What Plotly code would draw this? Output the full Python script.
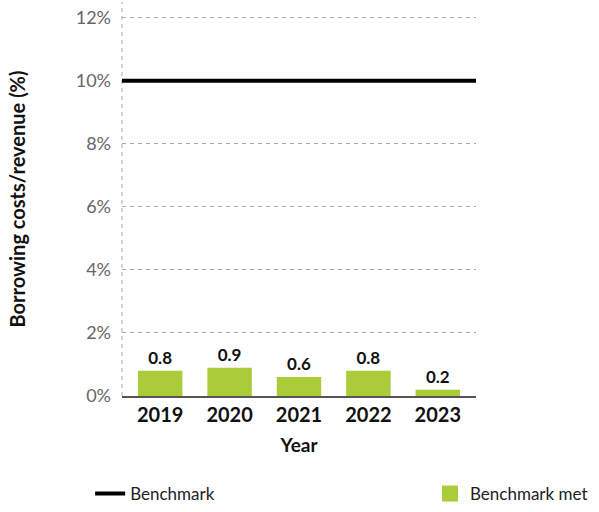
import plotly.graph_objects as go

# Borrowing costs as a share of revenue, by year
years = ["2019", "2020", "2021", "2022", "2023"]
borrowing_pct = [0.8, 0.9, 0.6, 0.8, 0.2]
benchmark_pct = 10

y_ticks = [0, 2, 4, 6, 8, 10, 12]
y_tick_labels = ["0%", "2%", "4%", "6%", "8%", "10%", "12%"]

FONT = "Lato"
GREEN = "#AACC38"

positions = list(range(len(years)))
x_range = [-0.55, len(years) - 0.45]

fig = go.Figure()

fig.add_trace(go.Bar(
    x=positions, y=borrowing_pct,
    marker=dict(color=GREEN, line=dict(width=0)),
    width=0.64,
    text=[f"{v:.1f}" for v in borrowing_pct],
    textposition="outside",
    textfont=dict(family=FONT, size=17, color="#111111", weight="bold"),
    cliponaxis=False,
    showlegend=False,
    hoverinfo="skip",
))

# Benchmark line across the full plot width
fig.add_trace(go.Scatter(
    x=x_range, y=[benchmark_pct, benchmark_pct],
    mode="lines", line=dict(color="#000000", width=4),
    name="Benchmark", cliponaxis=False, legend="legend",
))

# Legend entry for the bars
fig.add_trace(go.Scatter(
    x=[None], y=[None], mode="markers",
    marker=dict(symbol="square", size=20, color=GREEN),
    name="Benchmark met", legend="legend2",
))

# dashed vertical axis line
fig.add_shape(type="line", xref="paper", yref="paper", x0=0, x1=0, y0=0, y1=1,
              line=dict(color="#aaaaaa", width=1, dash="4px,4px"), layer="below")

legend_common = dict(
    orientation="h", yanchor="bottom", y=-0.2944, xanchor="left",
    font=dict(family=FONT, size=17, color="#222222"),
    itemwidth=30, bgcolor="rgba(0,0,0,0)",
)

fig.update_layout(
    width=599, height=512,
    margin=dict(l=122, r=123, t=2, b=116, autoexpand=False),
    paper_bgcolor="white", plot_bgcolor="white",
    font=dict(family=FONT, color="#222222"),
    xaxis=dict(
        range=x_range,
        tickvals=positions, ticktext=years,
        tickfont=dict(family=FONT, size=20, color="#111111", weight="bold"),
        showgrid=False, zeroline=False,
        showline=True, linecolor="#555555", linewidth=2,
        ticks="", ticklabelstandoff=0, automargin=False,
        title=dict(text="Year", font=dict(family=FONT, size=19, color="#111111", weight="bold"), standoff=14),
    ),
    yaxis=dict(
        range=[0, 12.5],
        tickvals=y_ticks, ticktext=y_tick_labels,
        tickfont=dict(family=FONT, size=18, color="#666666"),
        showgrid=True, gridcolor="#aaaaaa", gridwidth=1, griddash="4px,4px",
        zeroline=False, showline=False,
        ticks="", ticklabelstandoff=10, automargin=False,
        title=dict(text="Borrowing costs/revenue (%)", font=dict(family=FONT, size=20, color="#111111", weight="bold"), standoff=44),
    ),
    legend=dict(legend_common, x=-0.09),
    legend2=dict(legend_common, x=0.870),
)

fig.write_html("out.html")
